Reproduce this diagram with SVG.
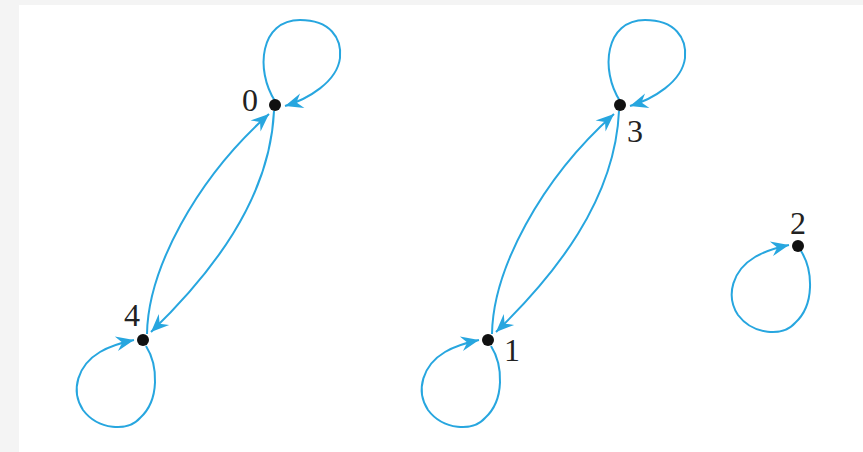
<svg xmlns="http://www.w3.org/2000/svg" width="863" height="452" viewBox="0 0 863 452">
<style>
.e{fill:none;stroke:#27a6df;stroke-width:2;marker-end:url(#ah)}
.n{fill:#111}
.l{font-family:"Liberation Serif","Times New Roman",serif;font-size:32px;fill:#222;text-anchor:middle}
</style>
<defs>
<marker id="ah" viewBox="-19 -8 20 16" refX="0" refY="0" markerWidth="20" markerHeight="16" markerUnits="userSpaceOnUse" orient="auto">
<path d="M0,0 L-18,-7.5 L-12,0 L-18,7.5 Z" fill="#27a6df"/>
</marker>
</defs>
<rect x="0" y="0" width="863" height="452" fill="#f4f4f4"/>
<rect x="19" y="5" width="844" height="447" fill="#ffffff"/>
<g id="connectors">
<path class="e" d="M275,101 C255,70 260,20 300,20 C330,20 342,38 340,58 C337,82 308,99 285,106"/>
<path class="e" d="M146,346 C158,365 160,400 140,418 C128,432 98,430 83,410 C70,390 78,365 100,352 C110,346 120,343 134,340"/>
<path class="e" d="M147,334 C148,270 195,180 269,114"/>
<path class="e" d="M274,111 C270,200 210,275 151,332"/>
<path class="e" d="M620,101 C600,70 605,20 645,20 C675,20 687,38 685,58 C682,82 653,99 630,106"/>
<path class="e" d="M491,346 C503,365 505,400 485,418 C473,432 443,430 428,410 C415,390 423,365 445,352 C455,346 465,343 479,340"/>
<path class="e" d="M492,334 C493,270 540,180 614,114"/>
<path class="e" d="M619,111 C615,200 555,275 496,332"/>
<path class="e" d="M801,251 C813,270 815,305 795,323 C783,337 753,335 738,315 C725,295 733,270 755,257 C765,251 775,248 789,245"/>
</g>
<g id="node0"><circle class="n" cx="275" cy="105" r="6"/><text class="l" x="250" y="111">0</text></g>
<g id="node1"><circle class="n" cx="488" cy="340" r="6"/><text class="l" x="512" y="361">1</text></g>
<g id="node2"><circle class="n" cx="798" cy="246" r="6"/><text class="l" x="798" y="234">2</text></g>
<g id="node3"><circle class="n" cx="620" cy="105" r="6"/><text class="l" x="635" y="142">3</text></g>
<g id="node4"><circle class="n" cx="143" cy="340" r="6"/><text class="l" x="132" y="326">4</text></g>
</svg>
